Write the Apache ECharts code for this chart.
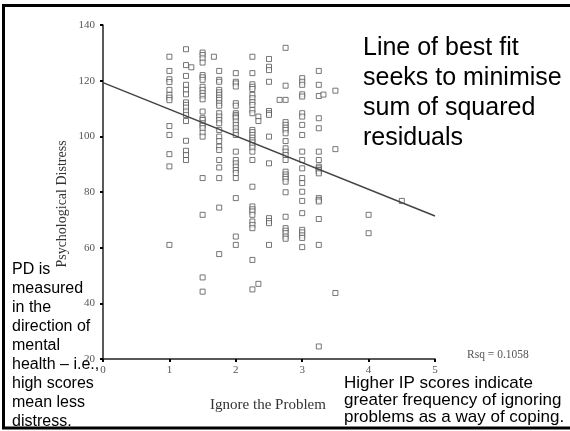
<!DOCTYPE html>
<html><head><meta charset="utf-8">
<script src="https://cdn.jsdelivr.net/npm/echarts@6/dist/echarts.min.js"></script>
<style>html,body{margin:0;padding:0;background:#fff}#c{width:570px;height:431px}</style>
</head><body><div id="c"></div><script>
// Psychological Distress values, one array per "Ignore the Problem" score
const x1_00 = [128.6, 123.5, 120.5, 119.5, 116.7, 114.9, 113.9, 113.0, 103.7, 100.5, 93.6, 89.2, 61.0];
const x1_25 = [131.3, 125.6, 121.7, 118.5, 116.7, 115.1, 112.2, 111.3, 110.3, 108.9, 107.7, 105.5, 98.4, 94.8, 93.3, 91.5];
const x1_33 = [124.8];
const x1_50 = [130.1, 129.2, 128.0, 126.5, 122.0, 121.2, 120.3, 117.8, 116.7, 115.5, 114.5, 113.3, 108.9, 106.5, 105.9, 104.7, 103.8, 102.9, 101.3, 99.9, 85.0, 71.8, 49.3, 44.2];
const x1_67 = [128.6];
const x1_75 = [123.5, 120.3, 119.6, 116.7, 115.8, 114.9, 113.9, 113.1, 111.9, 111.0, 108.3, 107.1, 105.9, 104.7, 102.3, 99.9, 98.3, 96.3, 95.1, 91.5, 88.8, 85.0, 74.4, 57.7];
const x2_00 = [122.7, 119.6, 119.0, 117.9, 111.9, 111.0, 108.3, 107.7, 107.1, 106.5, 105.3, 104.1, 102.9, 101.7, 100.5, 94.5, 91.5, 90.3, 89.1, 87.9, 86.8, 85.0, 77.8, 64.0, 61.0];
const x2_25 = [128.6, 122.7, 118.7, 117.8, 117.0, 114.9, 113.7, 112.3, 111.3, 109.5, 108.3, 102.3, 101.5, 100.5, 99.5, 98.6, 97.8, 96.8, 95.9, 94.5, 91.5, 81.9, 74.8, 73.8, 73.0, 71.8, 69.4, 68.2, 67.0, 55.6, 45.0];
const x2_34 = [107.1, 105.5, 47.0];
const x2_50 = [127.8, 125.0, 123.8, 119.6, 109.1, 108.3, 107.7, 99.9, 90.3, 70.6, 69.6, 68.8, 61.0];
const x2_66 = [113.1];
const x2_75 = [131.8, 118.2, 113.1, 105.1, 104.1, 103.1, 102.3, 101.1, 98.3, 95.7, 94.5, 93.3, 91.5, 87.3, 86.3, 85.5, 84.7, 83.7, 79.9, 71.1, 67.0, 66.1, 65.2, 64.0, 63.2];
const x3_00 = [120.9, 119.6, 118.5, 115.1, 114.3, 108.3, 107.1, 104.1, 100.5, 94.5, 91.5, 88.5, 85.0, 83.2, 80.1, 76.8, 72.4, 66.4, 65.5, 64.4, 63.5, 60.2];
const x3_25 = [123.5, 118.5, 114.5, 106.5, 102.9, 94.5, 91.5, 89.1, 88.5, 87.9, 87.3, 86.7, 77.8, 77.2, 76.6, 70.3, 61.0, 24.5];
const x3_32 = [115.0];
const x3_50 = [116.4, 95.4, 43.7];
const x4_00 = [71.8, 65.2];
const x4_50 = [76.8];

const columns = [
  [1.00, x1_00], [1.25, x1_25], [1.33, x1_33], [1.50, x1_50], [1.67, x1_67], [1.75, x1_75],
  [2.00, x2_00], [2.25, x2_25], [2.34, x2_34], [2.50, x2_50], [2.66, x2_66], [2.75, x2_75],
  [3.00, x3_00], [3.25, x3_25], [3.32, x3_32], [3.50, x3_50], [4.00, x4_00], [4.50, x4_50]
];
const fitLine = [[0, 119.3], [5, 71.4]];
const rsqText = 'Rsq = 0.1058';

const points = [];
columns.forEach(([x, arr]) => arr.forEach(v => points.push([x, v])));

const serif = '"Liberation Serif", "Times New Roman", serif';
const sans = '"Liberation Sans", Arial, sans-serif';

const chart = echarts.init(document.getElementById('c'), null, {renderer: 'canvas'});
chart.setOption({
  animation: false,
  backgroundColor: '#fff',
  grid: {left: 103, right: 135, top: 25, bottom: 72, containLabel: false},
  xAxis: {
    type: 'value', min: 0, max: 5, interval: 1,
    splitLine: {show: false},
    axisLine: {onZero: false, lineStyle: {color: '#222', width: 1.5}},
    axisTick: {length: 3, lineStyle: {color: '#000', width: 2}},
    axisLabel: {color: '#555', fontFamily: serif, fontSize: 11, margin: 6}
  },
  yAxis: {
    type: 'value', min: 20, max: 140, interval: 20,
    splitLine: {show: false},
    axisLine: {onZero: false, lineStyle: {color: '#222', width: 1.5}},
    axisTick: {length: 3, lineStyle: {color: '#000', width: 2}},
    axisLabel: {color: '#555', fontFamily: serif, fontSize: 11, margin: 8}
  },
  series: [
    {type: 'scatter', data: points, symbol: 'rect', symbolSize: 5,
     itemStyle: {color: '#fff', borderColor: '#555', borderWidth: 1}},
    {type: 'line', data: fitLine, symbol: 'none', z: 3,
     lineStyle: {color: '#444', width: 1.5}}
  ],
  graphic: [
    {type: 'rect', shape: {x: 3.5, y: 5.5, width: 575, height: 422.5},
     style: {fill: 'none', stroke: '#000', lineWidth: 3}, silent: true},
    {type: 'text', x: 363, y: 33,
     style: {text: 'Line of best fit\nseeks to minimise\nsum of squared\nresiduals', font: '25px ' + sans, lineHeight: 30, fill: '#000'}},
    {type: 'text', x: 12, y: 260.5,
     style: {text: 'PD is\nmeasured\nin the\ndirection of\nmental\nhealth \u2013 i.e.,\nhigh scores\nmean less\ndistress.', font: '16px ' + sans, lineHeight: 19, fill: '#000'}},
    {type: 'text', x: 344, y: 374.5,
     style: {text: 'Higher IP scores indicate\ngreater frequency of ignoring\nproblems as a way of coping.', font: '17px ' + sans, lineHeight: 17, fill: '#000'}},
    {type: 'text', x: 268, y: 405,
     style: {text: 'Ignore the Problem', font: '15px ' + serif, fill: '#333', textAlign: 'center', textVerticalAlign: 'middle'}},
    {type: 'text', x: 62, y: 204, rotation: Math.PI / 2,
     style: {text: 'Psychological Distress', font: '14px ' + serif, fill: '#333', textAlign: 'center', textVerticalAlign: 'middle'}},
    {type: 'text', x: 467, y: 355,
     style: {text: rsqText, font: '11.5px ' + serif, fill: '#555', textAlign: 'left', textVerticalAlign: 'middle'}}
  ]
});
</script></body></html>
